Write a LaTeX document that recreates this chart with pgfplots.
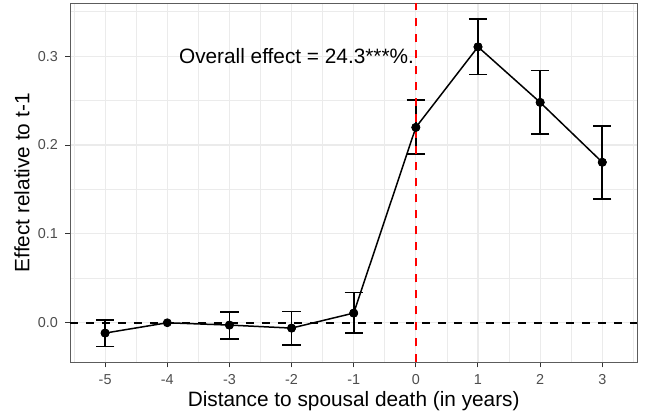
\documentclass[border=0pt]{standalone}
\usepackage{pgfplots}
\pgfplotsset{compat=1.18}
\usepackage{fontspec}
\setmainfont{Liberation Sans}
\definecolor{gridgray}{HTML}{EBEBEB}
\definecolor{tickgray}{HTML}{4D4D4D}
\definecolor{bordergray}{HTML}{333333}
\begin{document}
\begin{tikzpicture}
\path[use as bounding box] (0,0) rectangle (323pt,209.5pt);
\begin{axis}[
  at={(35pt,28.35pt)}, anchor=south west,
  scale only axis, width=283.7pt, height=179.5pt,
  xmin=-5.565, xmax=3.565, ymin=-0.0445, ymax=0.3595,
  xtick={-5,-4,-3,-2,-1,0,1,2,3},
  xticklabels={-5,-4,-3,-2,-1,0,1,2,3},
  ytick={0,0.1,0.2,0.3}, yticklabels={0.0,0.1,0.2,0.3},
  minor xtick={-5.5,-4.5,-3.5,-2.5,-1.5,-0.5,0.5,1.5,2.5,3.5},
  minor ytick={-0.05,0.05,0.15,0.25,0.35},
  grid=both,
  major grid style={color=gridgray, line width=0.55pt},
  minor grid style={color=gridgray, line width=0.3pt},
  tick align=outside, major tick length=2.5pt, minor tick length=0pt,
  xtick pos=left, ytick pos=left,
  tick style={color=bordergray, line width=0.5pt},
  axis line style={color=bordergray!80, line width=0.5pt},
  ticklabel style={font=\fontsize{7.2}{8}\selectfont, color=tickgray},
  xlabel={Distance to spousal death (in years)},
  ylabel={Effect relative to t-1},
  label style={font=\fontsize{10.4}{12}\selectfont, color=black},
  xlabel style={at={(rel axis cs:0.5,0)}, anchor=center, yshift=-19.5pt},
  ylabel style={at={(rel axis cs:0,0.5)}, anchor=center, rotate=0, yshift=24pt},
  clip=true,
]
\addplot[black, line width=0.75pt, dash pattern=on 4pt off 4pt, forget plot]
  coordinates {(-5.565,0) (3.565,0)};
\addplot[black, only marks, mark=*, mark size=2pt,
  error bars/.cd, y dir=both, y explicit,
  error bar style={black, line width=0.8pt},
  error mark options={black, line width=0.8pt, mark size=4.6pt, rotate=90}]
  coordinates {
  (-5,-0.0116) += (0,0.0150) -= (0,0.0150)
  (-3,-0.0026) += (0,0.0150) -= (0,0.0154)
  (-2,-0.0060) += (0,0.0187) -= (0,0.0187)
  (-1,0.0109) += (0,0.0231) -= (0,0.0225)
  (0,0.2199) += (0,0.0307) -= (0,0.0303)
  (1,0.3105) += (0,0.0311) -= (0,0.0311)
  (2,0.2480) += (0,0.0360) -= (0,0.0356)
  (3,0.1806) += (0,0.0411) -= (0,0.0416)
  };
\addplot[black, line width=0.75pt, mark=none]
  coordinates {(-5,-0.0116) (-4,0) (-3,-0.0026) (-2,-0.0060) (-1,0.0109) (0,0.2199) (1,0.3105) (2,0.2480) (3,0.1806)};
\addplot[black, only marks, mark=*, mark size=2pt]
  coordinates {(-5,-0.0116) (-4,0) (-3,-0.0026) (-2,-0.0060) (-1,0.0109) (0,0.2199) (1,0.3105) (2,0.2480) (3,0.1806)};
\addplot[red, line width=0.75pt, dash pattern=on 4pt off 4pt]
  coordinates {(0,-0.0445) (0,0.3595)};
\node[font=\fontsize{10.4}{12}\selectfont, anchor=center] at (axis cs:-1.92,0.3) {Overall effect = 24.3***\%.};
\end{axis}
\end{tikzpicture}
\end{document}
